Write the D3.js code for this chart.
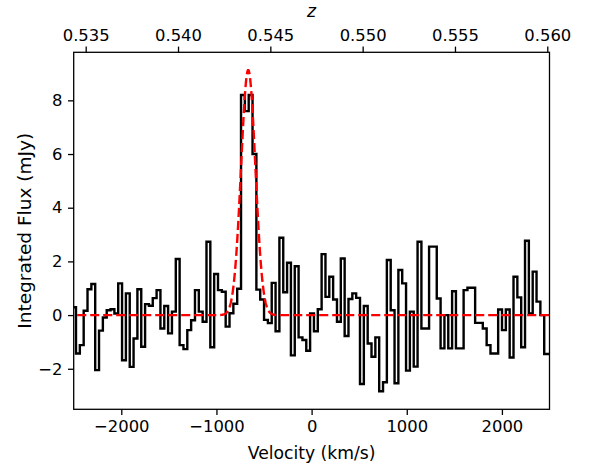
<!DOCTYPE html>
<html><head><meta charset="utf-8">
<script src="https://cdn.jsdelivr.net/npm/d3@7"></script>
<style>
html,body{margin:0;padding:0;background:#fff;}
text{font-family:"DejaVu Sans",sans-serif;}
</style></head>
<body>
<div id="chart"></div>
<script>
// ---- data ----
const channelStart = -2536.3;    // centre of first channel (km/s)
const channelWidth = 40.33;      // km/s
const flux = [0.29, 0.29,
 -1.43,-1.12,0.16,0.96,1.16,-2.05,-0.58,-0.09,0.18,0.22,
 0.06,1.18,-1.68,0.81,-1.93,-0.87,0.96,-1.18,0.41,0.35,
 0.63,0.93,-0.50,0.34,-0.68,0.13,2.09,-1.12,-1.27,-0.56,
 -0.19,0.93,0.13,-0.25,2.73,-1.2,1.53,0.93,0.87,-0.43,
 0.07,0.42,0.98,8.2,7.6,8.2,6.0,0.95,0.58,-0.18,
 -0.3,1.2,-0.6,2.88,0.85,1.95,-1.5,1.82,-0.83,-0.93,
 -1.33,0.06,-0.6,0.22,2.27,0.68,1.43,0.58,-0.25,2.11,
 -0.78,0.6,0.81,0.64,-2.57,0.34,-1.06,-1.55,-0.83,-2.84,
 -2.5,2.05,0.18,-2.54,1.68,1.18,-2.07,0.13,-1.92,2.73,
 -0.5,-0.5,2.55,2.55,0.62,-1.24,0.0,-1.24,0.89,-1.24,
 -1.24,0.93,1.02,1.02,-0.29,-0.29,-0.5,-1.12,-1.43,-1.43,
 0.21,-0.56,0.21,-1.58,1.43,0.66,-1.2,2.77,0.06,1.62,
 0.5,0.0,-1.45,-1.45];
const velocity = flux.map((d,i)=>channelStart + i*channelWidth);
const gaussAmp = 9.13, gaussCenter = -666, gaussSigma = 75;
const xTicks = [-2000,-1000,0,1000,2000];
const yTicks = [-2,0,2,4,6,8];
const zTicks = [0.535,0.540,0.545,0.550,0.555,0.560];
const xLabel = "Velocity (km/s)";
const yLabel = "Integrated Flux (mJy)";
const zLabel = "z";

// ---- layout ----
const W = 589, H = 467;
const L = 73.7, R = 549.5, T = 52.3, B = 409.3;
const FS = 16.4, LFS = 17.2, YLFS = 18.5;

const svg = d3.select("#chart").append("svg").attr("width", W).attr("height", H)
  .style("background","#fff");

const x = d3.scaleLinear().domain([-2500,2500]).range([L,R]);
const y = d3.scaleLinear().domain([-3.51,9.79]).range([B,T]);
const z = d3.scaleLinear().domain([0.53435,0.56012]).range([L,R]);

svg.append("clipPath").attr("id","clip").append("rect")
  .attr("x",L).attr("y",T).attr("width",R-L).attr("height",B-T);

const g = svg.append("g").attr("clip-path","url(#clip)");

// histogram (step, mid)
const stepLine = d3.line().x((d,i)=>x(velocity[i])).y(d=>y(d)).curve(d3.curveStep);
g.append("path").datum(flux).attr("d", stepLine)
  .attr("fill","none").attr("stroke","#000").attr("stroke-width",2.4)
  .attr("stroke-linejoin","miter");

// gaussian fit
const gv = d3.range(-2600, 2601, 4);
const gaussLine = d3.line().x(v=>x(v)).y(v=>y(gaussAmp*Math.exp(-0.5*Math.pow((v-gaussCenter)/gaussSigma,2))));
g.append("path").datum(gv).attr("d", gaussLine)
  .attr("fill","none").attr("stroke","#ff0000").attr("stroke-width",2.4)
  .attr("stroke-dasharray","9.1,3.9");

// axes
function styleAxis(sel){
  sel.select(".domain").remove();
  sel.selectAll(".tick line").attr("stroke","#000").attr("stroke-width",1.3);
  sel.selectAll(".tick text").attr("font-size",FS).attr("fill","#000")
    .attr("font-family","DejaVu Sans, sans-serif");
}
const fmtX = d => d<0 ? "\u2212"+Math.abs(d) : String(d);
const xAxis = svg.append("g").attr("transform",`translate(0,${B})`)
  .call(d3.axisBottom(x).tickValues(xTicks).tickFormat(fmtX).tickSize(5.7).tickPadding(5.5));
styleAxis(xAxis);
const yAxis = svg.append("g").attr("transform",`translate(${L},0)`)
  .call(d3.axisLeft(y).tickValues(yTicks).tickFormat(fmtX).tickSize(5.7).tickPadding(5.5));
styleAxis(yAxis);
const zAxis = svg.append("g").attr("transform",`translate(0,${T})`)
  .call(d3.axisTop(z).tickValues(zTicks).tickFormat(d3.format(".3f")).tickSize(5.7).tickPadding(5.5));
styleAxis(zAxis);

// frame
svg.append("rect").attr("x",L).attr("y",T).attr("width",R-L).attr("height",B-T)
  .attr("fill","none").attr("stroke","#000").attr("stroke-width",1.3);

// labels
svg.append("text").attr("x",(L+R)/2).attr("y",458.5).attr("text-anchor","middle")
  .attr("font-size",LFS).text(xLabel);
svg.append("text").attr("transform",`translate(31,${(T+B)/2}) rotate(-90)`)
  .attr("text-anchor","middle").attr("font-size",YLFS).text(yLabel);
svg.append("text").attr("x",(L+R)/2).attr("y",16.5).attr("text-anchor","middle")
  .attr("font-size",LFS).attr("font-style","italic").text(zLabel);
</script>
</body></html>
